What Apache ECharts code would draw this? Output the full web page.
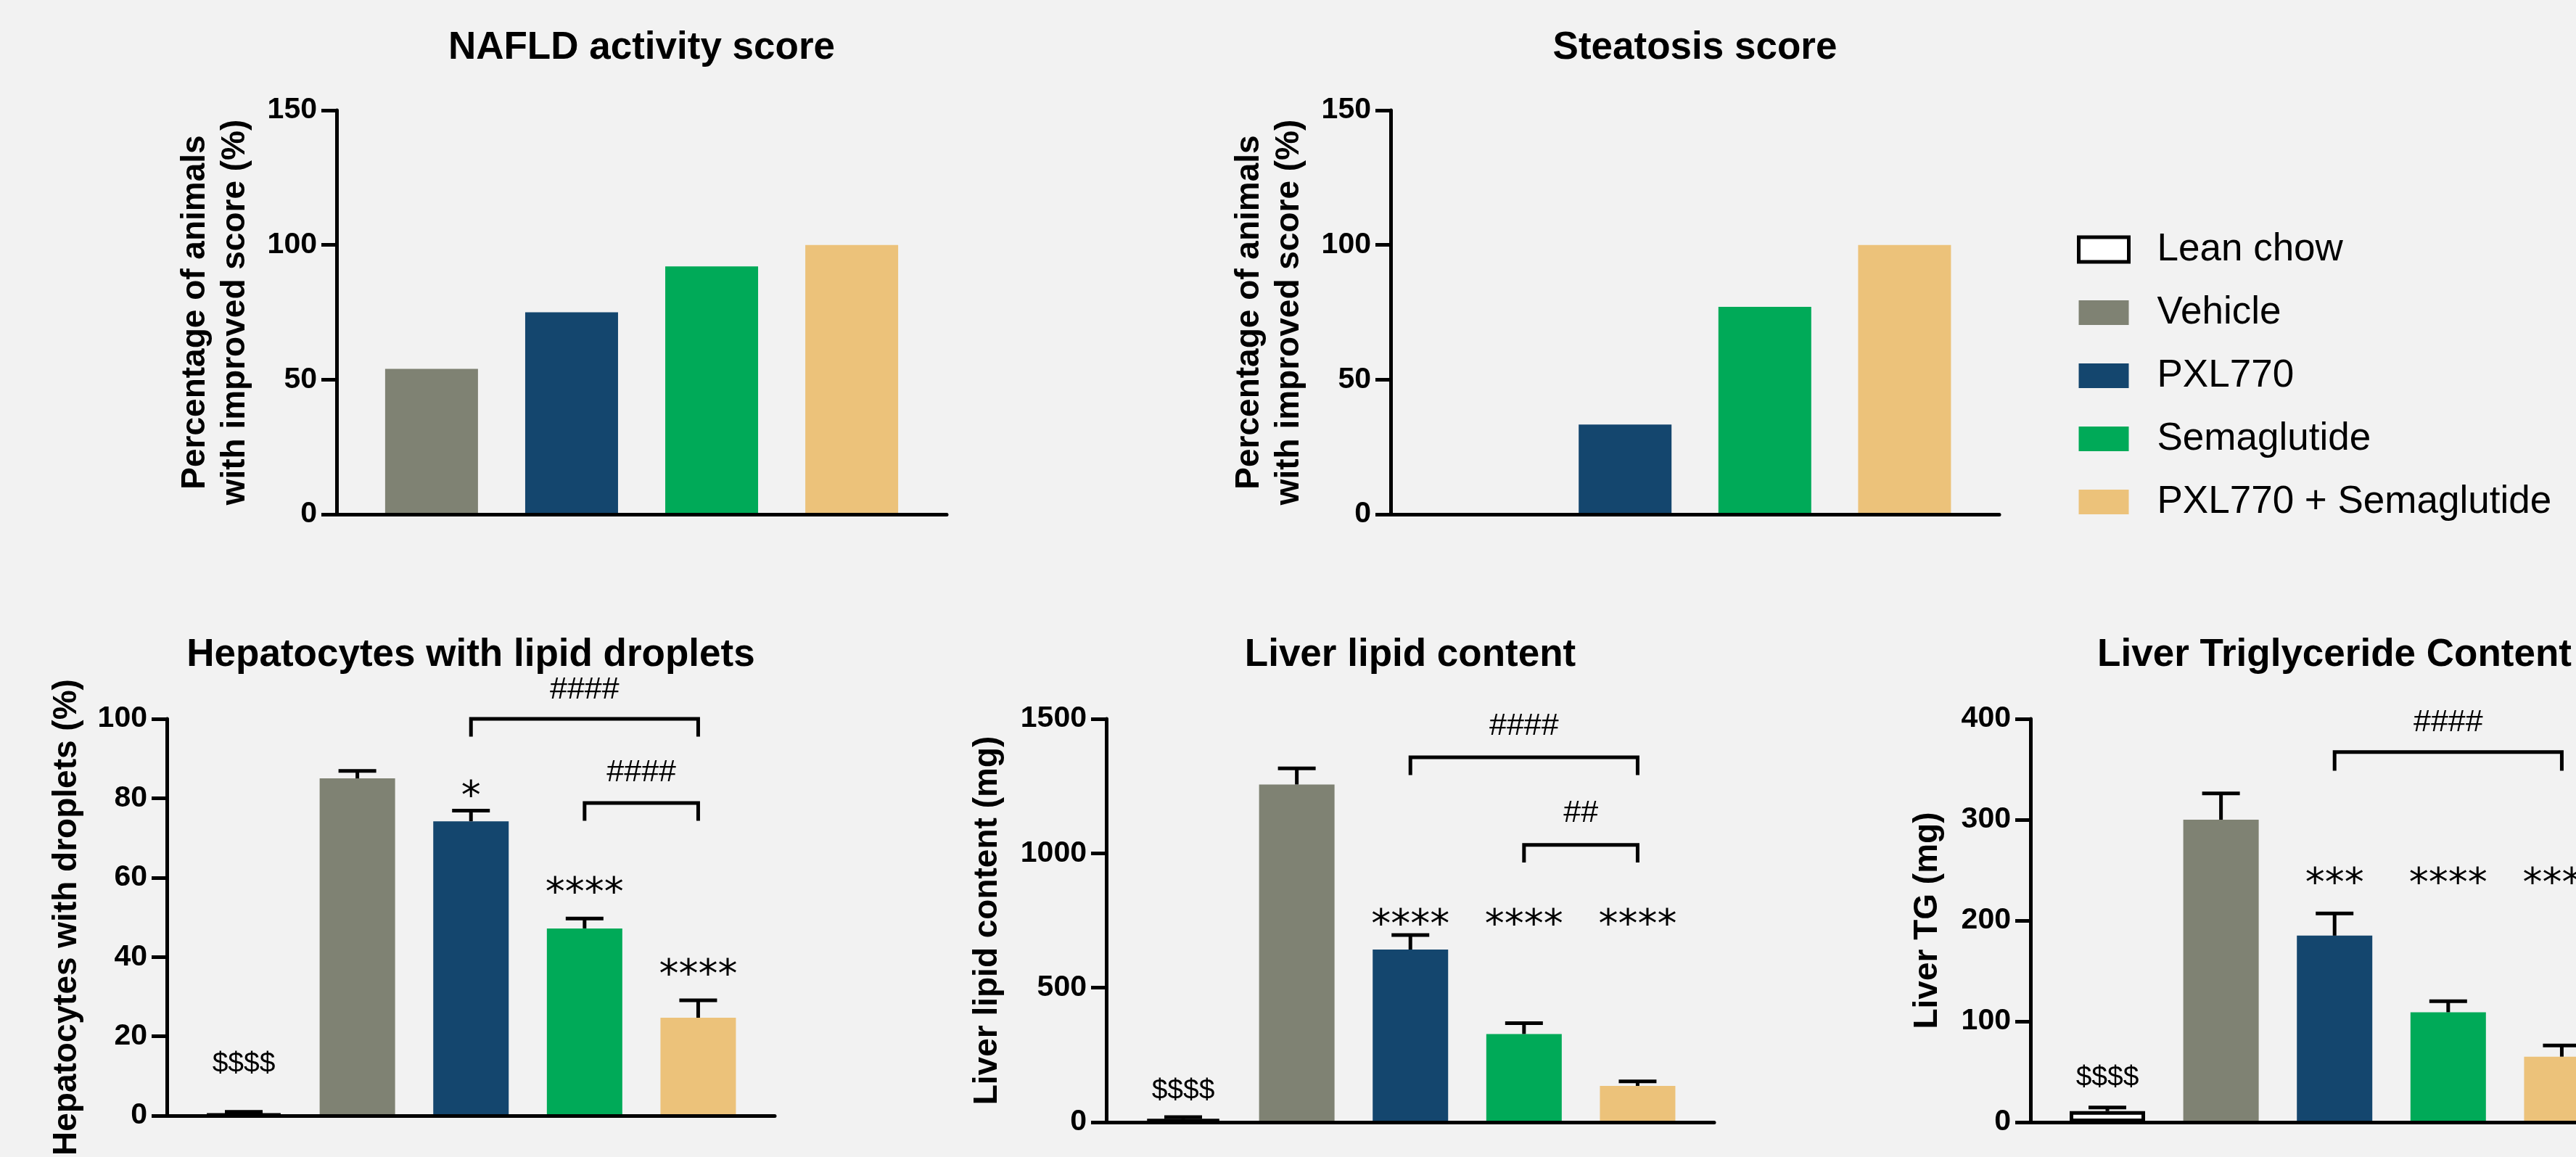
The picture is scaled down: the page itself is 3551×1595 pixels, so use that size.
<!DOCTYPE html>
<html>
<head>
<meta charset="utf-8">
<title>PXL770 / Semaglutide liver endpoints</title>
<script src="https://cdn.jsdelivr.net/npm/echarts@6/dist/echarts.min.js"></script>
<style>
  html, body { margin: 0; padding: 0; background: #f2f2f2; }
  #chart { width: 3551px; height: 1595px; }
</style>
</head>
<body>
<div id="chart"></div>
<script>
// --- data ---
const groups = ['Lean chow', 'Vehicle', 'PXL770', 'Semaglutide', 'PXL770 + Semaglutide'];

// % of animals with improved score (no Lean chow group in these two panels)
const nafldImproved     = [54, 75, 92, 100];
const steatosisImproved = [0, 33.3, 77, 100];

// mean and SEM, Lean chow .. PXL770 + Semaglutide
const hepMean   = [0.4, 85.0, 74.2, 47.2, 24.7];
const hepSem    = [0.6, 1.9, 2.7, 2.5, 4.4];
const lipidMean = [12, 1256, 642, 328, 135];
const lipidSem  = [7, 60, 54, 40, 17];
const tgMean    = [11, 300, 185, 109, 65];
const tgSem     = [3.5, 26, 22, 11, 11];

// significance marks: [group position, y value, text]
const hepMarks   = [[1, 13, '$$$$'], [3, 82.9, '*'], [4, 58.5, '****'], [5, 37.9, '****']];
const lipidMarks = [[1, 114, '$$$$'], [3, 770, '****'], [4, 770, '****'], [5, 770, '****']];
const tgMarks    = [[1, 44, '$$$$'], [3, 246, '***'], [4, 246, '****'], [5, 246, '****']];

// comparison brackets: [from, to, bar y, leg end y, text, text y]
const hepBrackets   = [[3, 5, 100, 95.5, '####', 107.2], [4, 5, 78.8, 74.3, '####', 86.5]];
const lipidBrackets = [[3, 5, 1357, 1291, '####', 1472], [4, 5, 1031, 966, '##', 1148]];
const tgBrackets    = [[3, 5, 367, 348.5, '####', 396]];

// --- styles ---
const FONT = '"Liberation Sans", Arial, sans-serif';
const groupStyle = [
  { color: '#ffffff', borderColor: '#000000', borderWidth: 5 },
  { color: '#7f8273' },
  { color: '#14466e' },
  { color: '#00aa58' },
  { color: '#ecc27a' }
];

// the last panel runs off the right edge of the figure, so its grid stops at the
// edge and the x range is cut to keep the same spacing as the other lower panels
const panels = [
  { title: 'NAFLD activity score', name: 'Percentage of animals\nwith improved score (%)',
    grid: { left: 464, top: 152, width: 841, height: 557 }, max: 150, interval: 50,
    xMin: 0.322, xMax: 4.678, barWidth: 128, nameGap: 112, first: 1,
    values: nafldImproved },
  { title: 'Steatosis score', name: 'Percentage of animals\nwith improved score (%)',
    grid: { left: 1917, top: 152, width: 839, height: 557 }, max: 150, interval: 50,
    xMin: 0.322, xMax: 4.678, barWidth: 128, nameGap: 112, first: 1,
    values: steatosisImproved },
  { title: 'Hepatocytes with lipid droplets', name: 'Hepatocytes with droplets (%)',
    grid: { left: 230, top: 991, width: 838, height: 556 }, max: 100, interval: 20,
    xMin: 0.323, xMax: 5.674, barWidth: 104, nameGap: 110, first: 0,
    values: hepMean, sem: hepSem, marks: hepMarks, brackets: hepBrackets },
  { title: 'Liver lipid content', name: 'Liver lipid content (mg)',
    grid: { left: 1525, top: 991, width: 838, height: 556 }, max: 1500, interval: 500,
    xMin: 0.323, xMax: 5.674, barWidth: 104, nameGap: 136, first: 0,
    values: lipidMean, sem: lipidSem, marks: lipidMarks, brackets: lipidBrackets },
  { title: 'Liver Triglyceride Content', name: 'Liver TG (mg)',
    grid: { left: 2799, top: 991, width: 752, height: 556 }, max: 400, interval: 100,
    xMin: 0.323, xMax: 5.125, barWidth: 104, nameGap: 114, first: 0, titleCenter: 3218,
    values: tgMean, sem: tgSem, marks: tgMarks, brackets: tgBrackets }
];

function markFont(text) {
  if (text.charAt(0) === '*') return { font: '54px "DejaVu Sans", sans-serif', dy: 15 };
  if (text.charAt(0) === '#') return { font: '43px ' + FONT, dy: 0 };
  return { font: '39px ' + FONT, dy: 0 };
}

const titles = [], grids = [], xAxes = [], yAxes = [], series = [];

panels.forEach((p, i) => {
  grids.push(p.grid);
  titles.push({
    text: p.title,
    left: p.titleCenter || p.grid.left + p.grid.width / 2,
    top: i < 2 ? 36 : 873,
    textAlign: 'center',
    padding: 0,
    textStyle: { fontFamily: FONT, fontWeight: 'bold', fontSize: 53, lineHeight: 60, color: '#000' }
  });
  xAxes.push({
    gridIndex: i, type: 'value', min: p.xMin, max: p.xMax, z: 5,
    axisLine: { show: true, onZero: false, lineStyle: { color: '#000', width: 5 } },
    axisTick: { show: false }, axisLabel: { show: false }, splitLine: { show: false }
  });
  yAxes.push({
    gridIndex: i, type: 'value', min: 0, max: p.max, interval: p.interval, z: 5,
    name: p.name, nameLocation: 'middle', nameGap: p.nameGap,
    nameTextStyle: { fontFamily: FONT, fontWeight: 'bold', fontSize: 46, lineHeight: 55, color: '#000' },
    axisLine: { show: true, onZero: false, lineStyle: { color: '#000', width: 5 } },
    axisTick: { show: true, length: 21, lineStyle: { color: '#000', width: 5 } },
    axisLabel: { fontFamily: FONT, fontWeight: 'bold', fontSize: 41, color: '#000', margin: 27,
      formatter: v => String(v) },
    splitLine: { show: false }
  });

  // one bar series per group so the legend picks them up
  p.values.forEach((v, k) => {
    const g = k + p.first;
    series.push({
      name: groups[g], type: 'bar', xAxisIndex: i, yAxisIndex: i,
      barWidth: p.barWidth, barGap: '-100%',
      itemStyle: groupStyle[g],
      data: [[k + 1, v]]
    });
  });

  if (p.sem) {
    series.push({
      type: 'custom', xAxisIndex: i, yAxisIndex: i, z: 4,
      data: p.values.map((v, k) => [k + 1, v, p.sem[k]]),
      renderItem: (params, api) => {
        const x = api.value(0), m = api.value(1), e = api.value(2);
        const b = api.coord([x, m]);
        const t = api.coord([x, m + e]);
        const st = { stroke: '#000', lineWidth: 5 };
        return { type: 'group', children: [
          { type: 'line', shape: { x1: b[0], y1: b[1], x2: t[0], y2: t[1] }, style: st },
          { type: 'line', shape: { x1: t[0] - 26, y1: t[1], x2: t[0] + 26, y2: t[1] }, style: st }
        ] };
      }
    });
  }

  if (p.brackets) {
    series.push({
      type: 'custom', xAxisIndex: i, yAxisIndex: i, z: 6,
      data: p.brackets.map(b => [b[0], b[1], b[2], b[3], b[5]]),
      renderItem: (params, api) => {
        const b = p.brackets[params.dataIndex];
        const a1 = api.coord([b[0], b[3]]), a2 = api.coord([b[0], b[2]]);
        const c2 = api.coord([b[1], b[2]]), c1 = api.coord([b[1], b[3]]);
        const lp = api.coord([(b[0] + b[1]) / 2, b[5]]);
        const f = markFont(b[4]);
        return { type: 'group', children: [
          { type: 'polyline', shape: { points: [a1, a2, c2, c1] },
            style: { stroke: '#000', lineWidth: 5, fill: null } },
          { type: 'text', x: lp[0], y: lp[1] + f.dy,
            style: { text: b[4], font: f.font, fill: '#000', align: 'center', verticalAlign: 'middle' } }
        ] };
      }
    });
  }

  if (p.marks) {
    series.push({
      type: 'custom', xAxisIndex: i, yAxisIndex: i, z: 6,
      data: p.marks.map(m => [m[0], m[1]]),
      renderItem: (params, api) => {
        const m = p.marks[params.dataIndex];
        const pt = api.coord([m[0], m[1]]);
        const f = markFont(m[2]);
        return { type: 'text', x: pt[0], y: pt[1] + f.dy,
          style: { text: m[2], font: f.font, fill: '#000', align: 'center', verticalAlign: 'middle' } };
      }
    });
  }
});

const chart = echarts.init(document.getElementById('chart'), null, { renderer: 'canvas' });
chart.setOption({
  backgroundColor: '#f2f2f2',
  animation: false,
  title: titles,
  grid: grids,
  xAxis: xAxes,
  yAxis: yAxes,
  legend: {
    orient: 'vertical', left: 2863, top: 314, padding: 0,
    itemWidth: 69, itemHeight: 34, itemGap: 27, icon: 'rect',
    selectedMode: false,
    data: groups.map((g, k) => ({ name: g, itemStyle: groupStyle[k] })),
    textStyle: { fontFamily: FONT, fontSize: 53, lineHeight: 60, color: '#000', padding: [0, 0, 0, 34] }
  },
  series: series
});
</script>
</body>
</html>
